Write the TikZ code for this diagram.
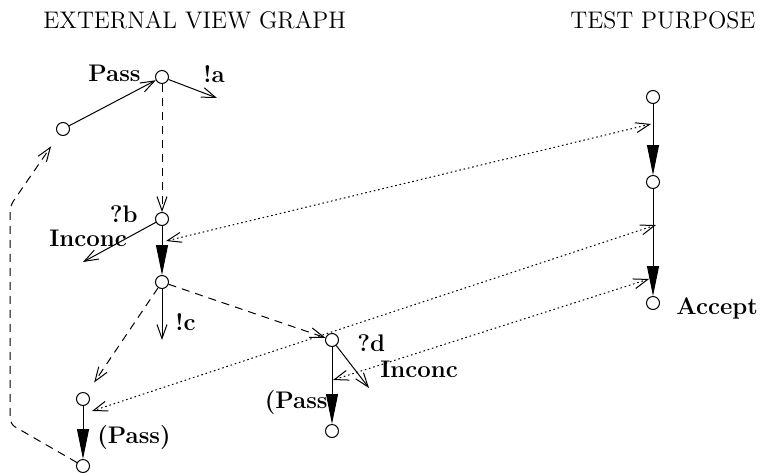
\documentclass[tikz,border=0pt]{standalone}
\usepackage{tikz}
\usetikzlibrary{arrows.meta}
\tikzset{
  st/.style={circle,draw,line width=0.5pt,inner sep=0pt,minimum size=6.5pt,fill=white},
  lbl/.style={inner sep=0pt,font=\fontsize{12}{14}\selectfont\bfseries},
  ttl/.style={inner sep=0pt,font=\fontsize{12}{14}\selectfont},
  opentip/.style={-{Straight Barb[length=7pt,width=5pt]}},
  trans/.style={opentip,line width=0.5pt},
  dtrans/.style={opentip,line width=0.5pt,dash pattern=on 4pt off 3pt},
  trfill/.style={-{Triangle[length=15pt,width=6pt]},line width=0.5pt},
  link/.style={{Straight Barb[length=7pt,width=5pt]}-{Straight Barb[length=7pt,width=5pt]},
               line width=0.5pt,dash pattern=on 0.8pt off 1.4pt},
}

\begin{document}
\begin{tikzpicture}[x=0.5pt,y=-0.5pt]
  \useasboundingbox (0,0) rectangle (766,472);
  % titles
  \node[ttl,anchor=base west] (tview) at (43,28) {EXTERNAL VIEW GRAPH};
  \node[ttl,anchor=base west] (tpurp) at (570,28) {TEST PURPOSE};
  % external view graph
  \node[st] (p0) at (162,77) {};
  \node[st] (q) at (63,129) {};
  \node[st] (b) at (162,219) {};
  \node[st] (c) at (162,282) {};
  \node[st] (d) at (332,340) {};
  \node[st] (e) at (83,399) {};
  \node[st] (f) at (83,466) {};
  \node[st] (g) at (332,431) {};
  % test purpose
  \node[st] (t1) at (653,97) {};
  \node[st] (t2) at (653,182) {};
  \node[st] (t3) at (653,303) {};
  % free ends
  \coordinate (aend) at (217,98);
  \coordinate (bend) at (83,262);
  \coordinate (cend) at (162,340);
  \coordinate (dend) at (369,388);
  % labels
  \node[lbl,anchor=base east] (lpass) at (141,81) {Pass};
  \node[lbl,anchor=base west] (la) at (203,82) {!a};
  \node[lbl,anchor=base east] (lb) at (138,222) {?b};
  \node[lbl,anchor=base west] (linca) at (49,246) {Inconc};
  \node[lbl,anchor=base west] (lc) at (175,330) {!c};
  \node[lbl,anchor=base west] (lpassb) at (97,443) {(Pass)};
  \node[lbl,anchor=base west] (ld) at (357,351) {?d};
  \node[lbl,anchor=base west] (lincb) at (380,377) {Inconc};
  \node[lbl,anchor=base east] (lpassc) at (328,408) {(Pass};
  \node[lbl,anchor=base west] (lacc) at (676,314) {Accept};
  % transitions
  \draw[trans] (q) -- (p0);
  \draw[trans] (p0) -- (aend);
  \draw[dtrans] (p0) -- (b);
  \draw[trans] (b) -- (bend);
  \draw[trfill] (b) -- (c);
  \draw[trans] (c) -- (cend);
  \draw[dtrans] (c) -- (d);
  \draw[dtrans,shorten >=6.5pt] (c) -- (e);
  \draw[trfill] (e) -- (f);
  \draw[dtrans,rounded corners=3pt,shorten >=7pt] (f) -- (10,424) -- (10,206) -- (q);
  \draw[trfill] (d) -- (g);
  \draw[trans] (d) -- (dend);
  \draw[trfill] (t1) -- (t2);
  \draw[trfill] (t2) -- (t3);
  % links between the graphs
  \coordinate (ma) at (651,124);
  \coordinate (mb) at (166,241);
  \coordinate (mc) at (656,225);
  \coordinate (md) at (92,411);
  \coordinate (me) at (649,279);
  \coordinate (mf) at (333,380);
  \draw[link] (ma) -- (mb);
  \draw[link] (mc) -- (md);
  \draw[link] (me) -- (mf);
\end{tikzpicture}
\end{document}
